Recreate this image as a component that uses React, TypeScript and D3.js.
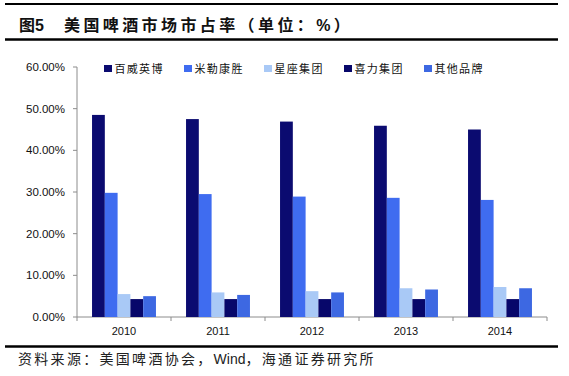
import React from "react";
import * as d3 from "d3";

const years = ["2010", "2011", "2012", "2013", "2014"];
const seriesNames = ["百威英博", "米勒康胜", "星座集团", "喜力集团", "其他品牌"];
const abInBev = [48.5, 47.5, 46.9, 45.9, 45.0];
const millerCoors = [29.8, 29.5, 28.9, 28.6, 28.1];
const constellation = [5.5, 5.9, 6.2, 6.9, 7.2];
const heineken = [4.3, 4.3, 4.3, 4.3, 4.3];
const others = [5.0, 5.3, 5.9, 6.6, 6.9];
const yTicks = [0, 10, 20, 30, 40, 50, 60];
const colors = ["#0b0b70", "#3f6cf0", "#a9c9f6", "#07076a", "#3d68e2"];

const seriesValues = [abInBev, millerCoors, constellation, heineken, others];

export default function App() {
  const W = 569, H = 376;
  const left = 77, right = 547, top = 67, bottom = 317;
  const x0 = d3.scaleBand().domain(years).range([left, right]).paddingInner(0).paddingOuter(0);
  const inner = 0.68;
  const x1 = d3.scaleBand().domain(seriesNames).range([0, x0.bandwidth() * inner]);
  const y = d3.scaleLinear().domain([0, 60]).range([bottom, top]);
  const off = (x0.bandwidth() * (1 - inner)) / 2;
  const sans = "'Liberation Sans', Arial, sans-serif";
  const cjk = "'Noto Sans CJK SC', sans-serif";

  return (
    <svg width={W} height={H} style={{ position: "absolute", left: 0, top: 0, background: "#fff" }}>
      <rect x={0} y={0} width={W} height={H} fill="#fff" />
      <line x1={5} x2={558} y1={4} y2={4} stroke="#000" strokeWidth={2.2} />
      <text x={19} y={31} fontFamily={sans} fontWeight={700} fontSize={16} fill="#111">
        <tspan fontFamily={cjk}>图</tspan>5
      </text>
      <text x={64} y={31} fontFamily={cjk} fontWeight={700} fontSize={16} letterSpacing={3.4} fill="#111">
        美国啤酒市场市占率（单位：<tspan fontFamily={sans}>%</tspan>）
      </text>
      <line x1={5} x2={558} y1={39.5} y2={39.5} stroke="#000" strokeWidth={2.4} />

      {/* y axis */}
      <line x1={left} x2={left} y1={top} y2={bottom} stroke="#8c8c8c" strokeWidth={1} />
      {yTicks.map((t) => (
        <g key={t}>
          <line x1={left - 4} x2={left} y1={y(t)} y2={y(t)} stroke="#8c8c8c" />
          <text x={65} y={y(t) + 4} textAnchor="end" fontFamily={sans} fontSize={11.5} fill="#111">
            {t.toFixed(2) + "%"}
          </text>
        </g>
      ))}
      {/* x axis */}
      <line x1={left} x2={right} y1={bottom} y2={bottom} stroke="#8c8c8c" />
      {years.map((yr, i) => (
        <g key={yr}>
          <line x1={(x0(yr) as number) + x0.bandwidth()} x2={(x0(yr) as number) + x0.bandwidth()} y1={bottom} y2={bottom + 4} stroke="#8c8c8c" />
          {i === 0 && <line x1={left} x2={left} y1={bottom} y2={bottom + 4} stroke="#8c8c8c" />}
          <text x={(x0(yr) as number) + x0.bandwidth() / 2} y={335} textAnchor="middle" fontFamily={sans} fontSize={11} fill="#111">
            {yr}
          </text>
        </g>
      ))}
      {/* bars */}
      {seriesNames.map((s, si) =>
        years.map((yr, i) => (
          <rect
            key={s + yr}
            x={(x0(yr) as number) + off + (x1(s) as number)}
            y={y(seriesValues[si][i])}
            width={x1.bandwidth()}
            height={bottom - y(seriesValues[si][i])}
            fill={colors[si]}
          />
        ))
      )}
      {/* legend */}
      {seriesNames.map((s, si) => (
        <g key={s} transform={`translate(${104 + si * 80},65)`}>
          <rect x={0} y={0} width={8} height={7} fill={colors[si]} />
          <text x={10.5} y={8} fontFamily={cjk} fontSize={11} letterSpacing={1.3} fill="#111">
            {s}
          </text>
        </g>
      ))}

      <line x1={5} x2={558} y1={346.5} y2={346.5} stroke="#000" strokeWidth={2.4} />
      <text x={18} y={364} fontFamily={cjk} fontSize={14} letterSpacing={2.3} fill="#222">
        资料来源：美国啤酒协会，<tspan fontFamily={sans} letterSpacing={0}>Wind</tspan>，海通证券研究所
      </text>
    </svg>
  );
}
